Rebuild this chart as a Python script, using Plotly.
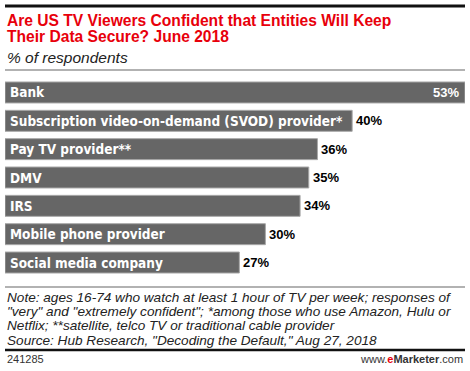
import plotly.graph_objects as go

categories = ["Bank", "Subscription video-on-demand (SVOD) provider*", "Pay TV provider**",
              "DMV", "IRS", "Mobile phone provider", "Social media company"]
values = [53, 40, 36, 35, 34, 30, 27]
value_labels = [f"{v}%" for v in values]

title_lines = ["Are US TV Viewers Confident that Entities Will Keep",
               "Their Data Secure? June 2018"]
subtitle = "% of respondents"
note_lines = ["Note: ages 16-74 who watch at least 1 hour of TV per week; responses of",
              "\"very\" and \"extremely confident\"; *among those who use Amazon, Hulu or",
              "Netflix; **satellite, telco TV or traditional cable provider",
              "Source: Hub Research, \"Decoding the Default,\" Aug 27, 2018"]
chart_id = "241285"

W, H = 470, 371
FONT = "Liberation Sans, Arial, sans-serif"
LABEL_FONT = "DejaVu Sans Condensed, DejaVu Sans, sans-serif"

def py(px):
    return 1 - px / H

fig = go.Figure(go.Bar(
    x=values, y=categories, orientation="h",
    marker=dict(color="#666666", line=dict(color="#a8a8a8", width=1)),
    hoverinfo="skip",
))

top_px, bot_px = 78.3, 276.7
fig.update_layout(
    width=W, height=H, margin=dict(l=0, r=0, t=0, b=0),
    paper_bgcolor="white", plot_bgcolor="white", showlegend=False,
    bargap=0.26,
    xaxis=dict(domain=[5 / W, 465 / W], range=[0, 53], visible=False, fixedrange=True),
    yaxis=dict(domain=[py(bot_px), py(top_px)], autorange="reversed", visible=False,
               categoryorder="array", categoryarray=categories),
    font=dict(family=FONT),
)

ann = []
for i, (c, v, lab) in enumerate(zip(categories, values, value_labels)):
    ann.append(dict(x=0, y=c, xref="x", yref="y", text=f"<b>{c}</b>", showarrow=False,
                    xanchor="left", xshift=3, font=dict(color="white", size=13.5, family=LABEL_FONT)))
    if i == 0:
        ann.append(dict(x=v, y=c, xref="x", yref="y", text=f"<b>{lab}</b>", showarrow=False,
                        xanchor="right", xshift=-4, font=dict(color="white", size=13, family=FONT)))
    else:
        ann.append(dict(x=v, y=c, xref="x", yref="y", text=f"<b>{lab}</b>", showarrow=False,
                        xanchor="left", xshift=2, font=dict(color="black", size=13, family=FONT)))

for line, yc in zip(title_lines, [21, 37]):
    ann.append(dict(x=5 / W, y=py(yc), xref="paper", yref="paper", xanchor="left", yanchor="middle",
                    align="left", showarrow=False, text=f"<b>{line}</b>",
                    font=dict(color="#e8000b", size=15.6, family=FONT)))
ann.append(dict(x=5 / W, y=py(57), xref="paper", yref="paper", xanchor="left", yanchor="middle",
                align="left", showarrow=False, text=f"<i>{subtitle}</i>",
                font=dict(color="#222222", size=15.5, family=FONT)))
for line, yc in zip(note_lines, [297.5, 311.5, 325.5, 340]):
    ann.append(dict(x=5 / W, y=py(yc), xref="paper", yref="paper", xanchor="left", yanchor="middle",
                    align="left", showarrow=False, text=f"<i>{line}</i>",
                    font=dict(color="#222222", size=13.6, family=FONT)))
ann.append(dict(x=5 / W, y=py(359), xref="paper", yref="paper", xanchor="left", yanchor="middle",
                showarrow=False, text=chart_id, font=dict(color="#333333", size=11, family=FONT)))
ann.append(dict(x=465 / W, y=py(359), xref="paper", yref="paper", xanchor="right", yanchor="middle",
                showarrow=False,
                text="www.<b><span style='color:#e8000b'>e</span>Marketer</b>.com",
                font=dict(color="#333333", size=11, family=FONT)))
fig.update_layout(annotations=ann)

shapes = [
    dict(type="line", xref="paper", yref="paper", x0=5 / W, x1=465 / W, y0=py(6), y1=py(6),
         line=dict(color="#111111", width=3)),
    dict(type="line", xref="paper", yref="paper", x0=5 / W, x1=465 / W, y0=py(70), y1=py(70),
         line=dict(color="#999999", width=1.5)),
    dict(type="line", xref="paper", yref="paper", x0=5 / W, x1=465 / W, y0=py(287), y1=py(287),
         line=dict(color="#999999", width=1.5)),
    dict(type="line", xref="paper", yref="paper", x0=5 / W, x1=465 / W, y0=py(350), y1=py(350),
         line=dict(color="#111111", width=2.5)),
]
fig.update_layout(shapes=shapes)

fig.write_html("out.html", config={"displayModeBar": False},
               post_script="document.body.style.margin='0';document.body.style.overflow='hidden';")
